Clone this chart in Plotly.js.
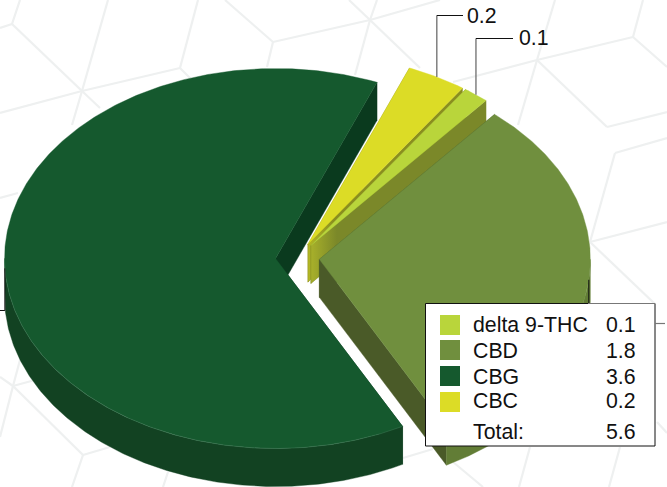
<!DOCTYPE html>
<html>
<head>
<meta charset="utf-8">
<script src="https://cdn.plot.ly/plotly-3.0.1.min.js"></script>
<style>html,body{margin:0;padding:0;background:#fff;overflow:hidden}#chart{width:667px;height:487px}</style>
</head>
<body>
<div id="chart"></div>
<script>
// ---- data ----
const sliceNames  = ['delta 9-THC', 'CBD', 'CBG', 'CBC'];
const sliceValues = [0.086, 1.75, 3.6, 0.2];
const totalLabel  = 'Total:';

// ---- styles ----
const topColors    = ['#B9D53B', '#708F3E', '#15592E', '#DCDC26'];
const rimColors    = ['#8E9C2C', '#627D36', '#124222', '#A3A51F'];
const radialColors = ['#7B8829', '#4A5A28', '#0A3A1E', '#8A8E1F'];
const FONT = 'Liberation Sans, Arial, sans-serif';

// ---- pie geometry ----
const CX = 297.5, CY = 257.7, RX = 271, RY = 190, DEPTH = 38, EXPLODE = 22, START = 22.0;
const total = sliceValues.reduce((a, b) => a + b, 0);
const rad = d => d * Math.PI / 180;

// angles run clockwise from north; order clockwise from START: CBC, delta 9-THC, CBD, CBG
const order = [3, 0, 1, 2];
let a0 = START;
const slices = order.map(i => {
  const span = sliceValues[i] / total * 360;
  const s = { i, from: a0, to: a0 + span, mid: a0 + span / 2 };
  s.cx = CX + EXPLODE * Math.sin(rad(s.mid));
  s.cy = CY - EXPLODE * (RY / RX) * Math.cos(rad(s.mid));
  a0 += span;
  return s;
});
const rim = (s, t) => [s.cx + RX * Math.sin(rad(t)), s.cy - RY * Math.cos(rad(t))];
function arc(s, a, b) {
  const pts = [], n = Math.max(2, Math.ceil(Math.abs(b - a) * 2));
  for (let k = 0; k <= n; k++) pts.push(rim(s, a + (b - a) * k / n));
  return pts;
}
function poly(pts, color, extra) {
  return Object.assign({
    type: 'scatter', mode: 'lines', x: pts.map(p => p[0]), y: pts.map(p => p[1]),
    fill: 'toself', fillcolor: color, line: { width: 0.4, color: color }, hoverinfo: 'skip'
  }, extra || {});
}
function radialWall(s, t, color, extra) {
  const r = rim(s, t);
  return poly([[s.cx, s.cy], r, [r[0], r[1] + DEPTH], [s.cx, s.cy + DEPTH], [s.cx, s.cy]], color, extra);
}
const traces = [];
slices.forEach(s => {
  const i = s.i;
  // walls at both radial edges (the top covers whichever faces away)
  const grad = (i === 3 || i === 0) ? {
    fillgradient: { type: 'horizontal', start: s.cx, stop: s.cx + 26,
      colorscale: [[0, i === 3 ? '#B4B824' : '#A8B02A'], [1, radialColors[i]]] }
  } : {};
  traces.push(radialWall(s, s.from, radialColors[i], grad));
  traces.push(radialWall(s, s.to, radialColors[i], grad));
  // outer wall on the part of the rim that faces the viewer
  const lo = Math.max(s.from, 90), hi = Math.min(s.to, 270);
  if (hi > lo) {
    const up = arc(s, lo, hi);
    const down = up.slice().reverse().map(p => [p[0], p[1] + DEPTH]);
    traces.push(poly(up.concat(down, [up[0]]), rimColors[i]));
  }
  // top face
  traces.push(poly([[s.cx, s.cy]].concat(arc(s, s.from, s.to), [[s.cx, s.cy]]), topColors[i]));
});
// faint light seam along CBG's front rim
const g = slices[3];
const seam = arc(g, g.from, 270);
traces.push({ type: 'scatter', mode: 'lines', x: seam.map(p => p[0]), y: seam.map(p => p[1]),
  line: { width: 0.4, color: '#4F8566' }, hoverinfo: 'skip' });

// ---- background hexagon mesh ----
const hexLines = [
  [0,28,12,24],[12,24,20,0],[12,24,82,91],[82,91,108,0],[0,113,82,91],[82,91,180,68],[180,68,198,0],
  [180,68,192,80],[82,91,72,125],[82,91,100,108],[225,0,273,42],[273,42,370,20],[370,20,440,0],
  [273,42,267,67],[370,20,355,75],[370,20,349,0],[370,20,377,0],[370,20,420,68],[555,0,537,60],
  [537,60,518,125],[537,60,633,37],[633,37,643,0],[633,37,667,67],[537,60,607,127],[607,127,667,112],
  [453,82,537,60],[615,153,667,138],[615,153,590,242],[590,242,667,222],[590,242,655,304],
  [0,198,18,193],[0,377,13,386],[13,386,83,455],[13,386,0,437],[13,386,20,360],[13,386,35,380],
  [83,455,72,487],[83,455,110,447],[163,487,168,472],[403,458,433,449],[453,462,483,487],
  [530,447,519,487],[620,447,609,487],[657,422,667,433]
];
const shapes = hexLines.map(l => ({
  type: 'line', xref: 'x', yref: 'y', x0: l[0], y0: l[1], x1: l[2], y1: l[3], layer: 'below',
  line: { color: '#EEF0F0', width: 2.2 }
}));
const seg = (x0, y0, x1, y1, color, w) => ({ type: 'line', xref: 'x', yref: 'y', x0, y0, x1, y1, layer: 'above',
  line: { color, width: w === undefined ? 1 : w } });

// ---- leader lines, starting at each slice's rim midpoint ----
const rimMid = idx => { const s = slices.find(q => q.i === idx); return rim(s, s.mid); };
const mCBC = rimMid(3), mTHC = rimMid(0), mCBD = rimMid(1), mCBG = rimMid(2);
shapes.push(seg(mCBC[0], mCBC[1], mCBC[0], 15.5, '#777777', 1.4), seg(mCBC[0], 15.5, 463, 15.5, '#111111'));
shapes.push(seg(mTHC[0], mTHC[1], mTHC[0], 38.5, '#777777', 1.4), seg(mTHC[0], 38.5, 513, 38.5, '#111111'));
shapes.push(seg(mCBD[0], mCBD[1], mCBD[0], 304, '#111111'));
shapes.push(seg(mCBG[0], mCBG[1], mCBG[0], 310.5, '#111111'), seg(mCBG[0], 310.5, 0, 310.5, '#111111'));

// ---- legend box ----
shapes.push({ type: 'rect', xref: 'x', yref: 'y', x0: 425.5, y0: 303.5, x1: 655, y1: 446, layer: 'above',
  fillcolor: '#FFFFFF', line: { color: '#111111', width: 1 } });
shapes.push(seg(588, 303.5, 655, 303.5, '#777777', 1.2));
shapes.push(seg(655, 323.5, 665, 323.5, '#777777', 1.2));
const rowY = [325, 351, 376.5, 401];
const swatchY = [315, 340, 366, 392];
sliceNames.forEach((n, i) => shapes.push({ type: 'rect', xref: 'x', yref: 'y', layer: 'above',
  x0: 440, x1: 460, y0: swatchY[i], y1: swatchY[i] + 20, fillcolor: topColors[i], line: { width: 0 } }));

const txt = (x, y, text) => ({ xref: 'x', yref: 'y', x, y, text, showarrow: false, xanchor: 'left', yanchor: 'middle',
  borderpad: 0, borderwidth: 0, font: { family: FONT, size: 21.3, color: '#111111' } });
const annotations = [];
sliceNames.forEach((n, i) => {
  annotations.push(txt(472.6, rowY[i], n));
  annotations.push(txt(605.6, rowY[i], sliceValues[i].toFixed(1)));
});
annotations.push(txt(472.6, 432, totalLabel));
annotations.push(txt(605.6, 432, total.toFixed(1)));
annotations.push(txt(466.6, 16, sliceValues[3].toFixed(1)));
annotations.push(txt(518.6, 38, sliceValues[0].toFixed(1)));

const axis = { visible: false, showgrid: false, zeroline: false, fixedrange: true };
Plotly.newPlot('chart', traces, {
  width: 667, height: 487, margin: { l: 0, r: 0, t: 0, b: 0, pad: 0 },
  paper_bgcolor: '#FFFFFF', plot_bgcolor: '#FFFFFF', showlegend: false,
  xaxis: Object.assign({ range: [0, 667] }, axis),
  yaxis: Object.assign({ range: [487, 0] }, axis),
  shapes, annotations, hovermode: false
}, { displayModeBar: false, staticPlot: true });
</script>
</body>
</html>
